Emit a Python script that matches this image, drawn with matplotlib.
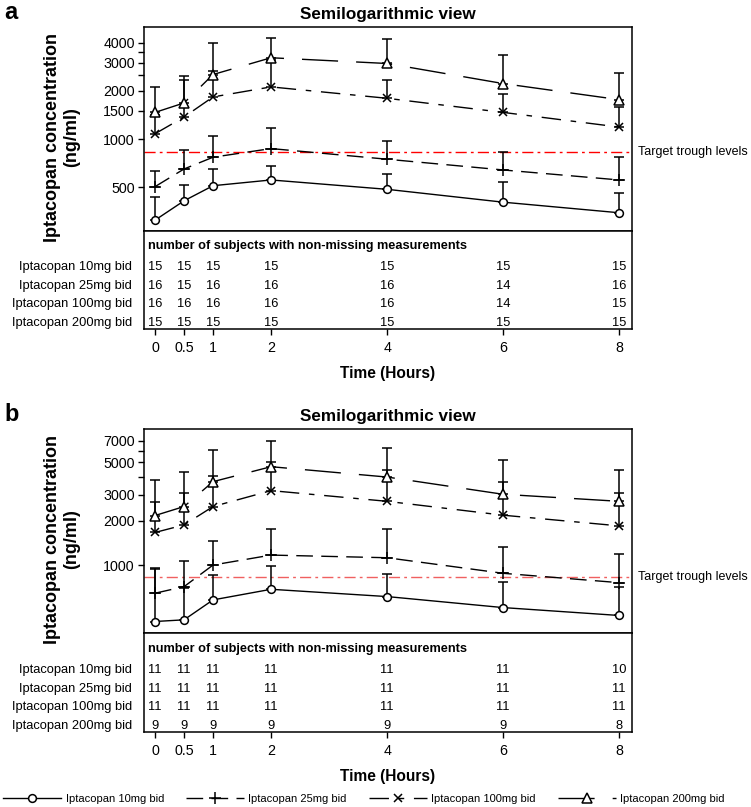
import matplotlib
matplotlib.use("Agg")
from matplotlib import pyplot as plt
from matplotlib.ticker import NullLocator, FixedLocator, FixedFormatter

plt.rcParams['font.family'] = ['Liberation Sans', 'DejaVu Sans']

hours = [0, 0.5, 1, 2, 4, 6, 8]
hour_labels = ["0", "0.5", "1", "2", "4", "6", "8"]
groups = ["Iptacopan 10mg bid", "Iptacopan 25mg bid", "Iptacopan 100mg bid", "Iptacopan 200mg bid"]
target_trough = 830

# panel a: geometric means and upper error bar ends (ng/ml)
a_10_mean = [312, 412, 512, 556, 486, 404, 347]
a_10_upper = [437, 515, 651, 683, 606, 537, 458]
a_25_mean = [505, 651, 771, 873, 749, 642, 556]
a_25_upper = [636, 857, 1050, 1178, 980, 836, 778]
a_100_mean = [1080, 1374, 1834, 2118, 1798, 1468, 1189]
a_100_upper = [1420, 2330, 2654, 3100, 2354, 1923, 1586]
a_200_mean = [1468, 1682, 2531, 3220, 2965, 2222, 1763]
a_200_upper = [2118, 2468, 3957, 4254, 4236, 3343, 2594]

a_n_10 = [15, 15, 15, 15, 15, 15, 15]
a_n_25 = [16, 15, 16, 16, 16, 14, 16]
a_n_100 = [16, 16, 16, 16, 16, 14, 15]
a_n_200 = [15, 15, 15, 15, 15, 15, 15]

# panel b
b_10_mean = [416, 427, 583, 688, 614, 517, 457]
b_10_upper = [960, 700, 856, 994, 878, 775, 717]
b_25_mean = [647, 717, 1005, 1174, 1126, 883, 763]
b_25_upper = [950, 1074, 1466, 1751, 1759, 1336, 1197]
b_100_mean = [1671, 1880, 2505, 3213, 2718, 2188, 1852]
b_100_upper = [2677, 3112, 4055, 5045, 4454, 3673, 3097]
b_200_mean = [2177, 2505, 3696, 4667, 3970, 3033, 2718]
b_200_upper = [3788, 4290, 6040, 6950, 6270, 5146, 4405]

b_n_10 = [11, 11, 11, 11, 11, 11, 10]
b_n_25 = [11, 11, 11, 11, 11, 11, 11]
b_n_100 = [11, 11, 11, 11, 11, 11, 11]
b_n_200 = [9, 9, 9, 9, 9, 9, 8]

a_yticks = [500, 1000, 1500, 2000, 2500, 3000, 3500, 4000]
a_ylabels = ["500", "1000", "1500", "2000", "", "3000", "", "4000"]
b_yticks = [1000, 2000, 3000, 4000, 5000, 6000, 7000]
b_ylabels = ["1000", "2000", "3000", "", "5000", "", "7000"]

markers = ["o", "+", "x", "^"]
msizes = [5.6, 9, 6, 6.5]
dashes = [None, (12, 6), (14, 7, 4, 7), (26, 13)]

W, H = 751, 807
fig = plt.figure(figsize=(W / 100, H / 100), dpi=100)


def draw_panel(top, sep, bottom, letter, means, uppers, counts, ylim, yticks, ylabels, red):
    left, right = 144, 632
    ax = fig.add_axes([left / W, 1 - sep / H, (right - left) / W, (sep - top) / H])
    tb = fig.add_axes([left / W, 1 - bottom / H, (right - left) / W, (bottom - sep) / H])

    lines = []
    for i in range(4):
        m = means[i]
        up = [u - v for u, v in zip(uppers[i], m)]
        ax.errorbar(hours, m, yerr=[[0] * len(m), up], fmt="none", ecolor="black",
                    elinewidth=1.1, capsize=3.3, capthick=1.1, zorder=2)
        ln, = ax.plot(hours, m, color="black", lw=1.0, marker=markers[i], ms=msizes[i],
                      mfc="white", mec="black", mew=1.1, label=groups[i], zorder=3)
        if dashes[i] is not None:
            ln.set_dashes(dashes[i])
        lines.append(ln)

    ax.axhline(target_trough, color=red, lw=1.0, dashes=(8, 3, 2, 3), zorder=1)
    ax.text(1.012, target_trough, "Target trough levels", transform=ax.get_yaxis_transform(),
            ha="left", va="center", fontsize=9)

    ax.set_yscale("log")
    ax.set_xlim(-0.19, 8.22)
    ax.set_ylim(*ylim)
    ax.yaxis.set_major_locator(FixedLocator(yticks))
    ax.yaxis.set_major_formatter(FixedFormatter(ylabels))
    ax.yaxis.set_minor_locator(NullLocator())
    ax.set_xticks([])
    ax.tick_params(axis="y", direction="out", length=4.5, width=1, labelsize=10.3, pad=2)
    for s in ax.spines.values():
        s.set_linewidth(1.1)
    ax.set_title("Semilogarithmic view", fontweight="bold", fontsize=12.3, pad=6)
    ax.set_ylabel("Iptacopan concentration\n(ng/ml)", fontweight="bold", fontsize=13,
                  linespacing=1.15)
    ax.yaxis.set_label_coords(-0.131, 0.46)

    # table of subject counts
    tb.set_xlim(-0.19, 8.22)
    tb.set_ylim(0, 1)
    tb.set_yticks([])
    tb.set_xticks(hours)
    tb.set_xticklabels(hour_labels)
    tb.tick_params(axis="x", direction="out", length=4.5, width=1, labelsize=10.3, pad=4)
    for s in tb.spines.values():
        s.set_linewidth(1.1)
    tb.text(0.008, 0.842, "number of subjects with non-missing measurements",
            transform=tb.transAxes, fontweight="bold", fontsize=9.2, va="center", ha="left")
    row_y = [0.628, 0.437, 0.252, 0.063]
    for j in range(4):
        tb.text(-0.025, row_y[j], groups[j], transform=tb.transAxes, ha="right",
                va="center", fontsize=9.3)
        for h, n in zip(hours, counts[j]):
            tb.text(h, row_y[j], str(n), transform=tb.get_xaxis_transform(),
                    ha="center", va="center", fontsize=9.3)
    tb.set_xlabel("Time (Hours)", fontweight="bold", fontsize=11.2, labelpad=8)

    fig.text(4 / W, 1 - (top - 8) / H, letter, fontweight="bold", fontsize=17,
             ha="left", va="baseline")
    return lines


draw_panel(27, 231, 329, "a",
           [a_10_mean, a_25_mean, a_100_mean, a_200_mean],
           [a_10_upper, a_25_upper, a_100_upper, a_200_upper],
           [a_n_10, a_n_25, a_n_100, a_n_200],
           (267, 5010), a_yticks, a_ylabels, "red")

handles = draw_panel(429.3, 633.3, 731.7, "b",
                     [b_10_mean, b_25_mean, b_100_mean, b_200_mean],
                     [b_10_upper, b_25_upper, b_100_upper, b_200_upper],
                     [b_n_10, b_n_25, b_n_100, b_n_200],
                     (346, 8370), b_yticks, b_ylabels, "#f06060")

fig.legend(handles=handles, loc="lower left", bbox_to_anchor=(0.0, 0.0), ncol=4,
           frameon=False, fontsize=8, handlelength=5.2, handletextpad=0.4,
           columnspacing=2.0, borderaxespad=0.1, borderpad=0.2)

fig.savefig("out.png", dpi=100)
